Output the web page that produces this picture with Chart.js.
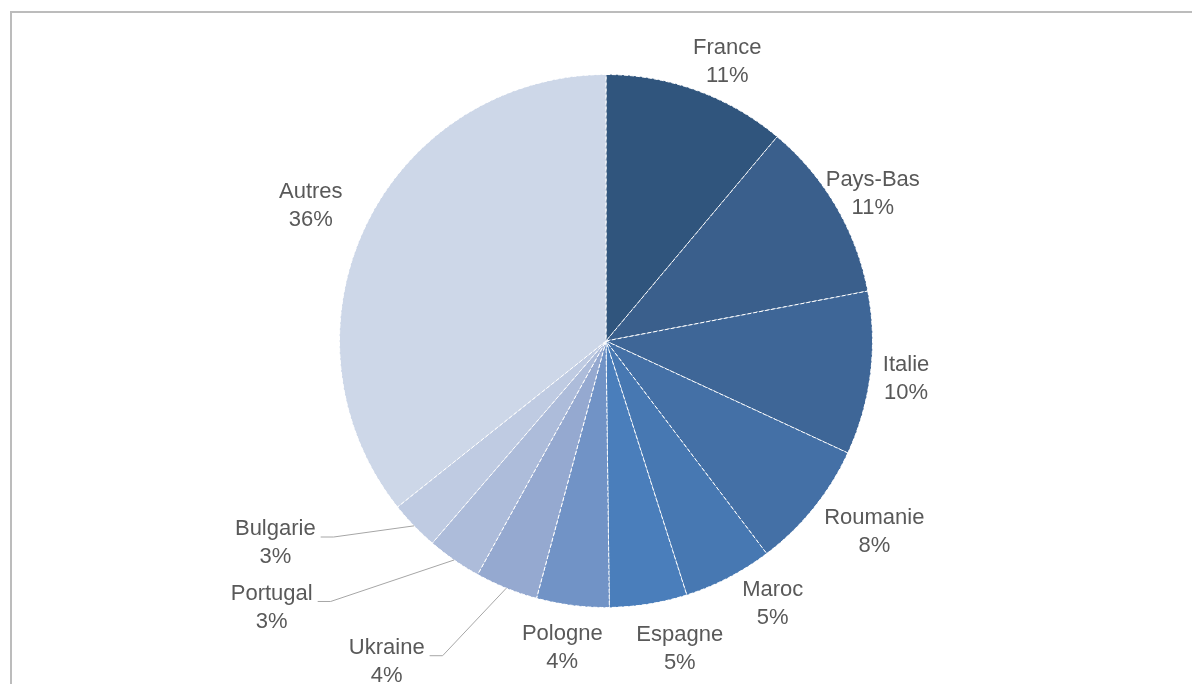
<!DOCTYPE html>
<html>
<head>
<meta charset="utf-8">
<script src="https://cdn.jsdelivr.net/npm/chart.js@4/dist/chart.umd.min.js"></script>
<style>
  html, body { margin: 0; padding: 0; background: #ffffff; overflow: hidden; }
  #wrap { position: relative; width: 1192px; height: 684px; }
  #frame { position: absolute; left: 10px; top: 11px; width: 1200px; height: 700px;
           border-left: 2px solid #bcbcbc; border-top: 2px solid #bcbcbc; box-sizing: border-box; }
  canvas { position: absolute; left: 0; top: 0; }
</style>
</head>
<body>
<div id="wrap">
  <div id="frame"></div>
  <canvas id="c" width="1192" height="684"></canvas>
</div>
<script>
// ---- data ----
const categories = ["France", "Pays-Bas", "Italie", "Roumanie", "Maroc", "Espagne", "Pologne", "Ukraine", "Portugal", "Bulgarie", "Autres"];
const shares = [11.1, 10.9, 9.9, 7.8, 5.4, 4.7, 4.4, 3.8, 3.3, 3.0, 35.7];
const sliceColors = ["#30557d", "#3a5f8c", "#3e6697", "#4470a6", "#4778b2", "#4a7ebb", "#7193c6", "#95a9d0", "#adbcda", "#bfcbe2", "#cdd7e8"];

// label placement: angle tweak (deg) and distance beyond the rim (px), plus leader-line flag
const labelPlacement = [
  {da: 3.5,  dr: 38,  leader: false},
  {da: 1.6,  dr: 38,  leader: false},
  {da: 0.2,  dr: 36,  leader: false},
  {da: -3.4, dr: 63,  leader: false},
  {da: -5.0, dr: 45,  leader: false},
  {da: -4.3, dr: 50,  leader: false},
  {da: 0.9,  dr: 44,  leader: false},
  {da: 12.4, dr: 122, leader: true},
  {da: 16.7, dr: 161, leader: true},
  {da: 12.5, dr: 121, leader: true},
  {da: -1.2, dr: 58,  leader: false}
];

const outsideLabels = {
  id: 'outsideLabels',
  afterDatasetsDraw(chart) {
    const ctx = chart.ctx;
    const meta = chart.getDatasetMeta(0);
    const data = chart.data.datasets[0].data;
    ctx.save();
    ctx.font = '22px "Liberation Sans", Arial, sans-serif';
    ctx.fillStyle = '#595959';
    ctx.textAlign = 'center';
    ctx.textBaseline = 'middle';
    const lineGap = 28;
    meta.data.forEach((arc, i) => {
      const p = arc.getProps(['x', 'y', 'startAngle', 'endAngle', 'outerRadius'], true);
      const mid = (p.startAngle + p.endAngle) / 2;
      const pl = labelPlacement[i];
      const a = mid + pl.da * Math.PI / 180;
      const r = p.outerRadius + pl.dr;
      const lx = p.x + Math.cos(a) * r;
      const ly = p.y + Math.sin(a) * r;
      const name = chart.data.labels[i];
      const pct = Math.round(data[i]) + '%';
      ctx.fillText(name, lx, ly - lineGap / 2);
      ctx.fillText(pct, lx, ly + lineGap / 2);
      if (pl.leader) {
        const w = ctx.measureText(name).width;
        const right = lx + w / 2;
        const yLine = ly - lineGap / 2 + 8;
        const ex = p.x + Math.cos(mid) * p.outerRadius;
        const ey = p.y + Math.sin(mid) * p.outerRadius;
        ctx.beginPath();
        ctx.strokeStyle = '#a6a6a6';
        ctx.lineWidth = 1;
        ctx.moveTo(ex, ey);
        ctx.lineTo(right + 18, yLine);
        ctx.lineTo(right + 5, yLine);
        ctx.stroke();
      }
    });
    ctx.restore();
  }
};

new Chart(document.getElementById('c'), {
  type: 'pie',
  data: {
    labels: categories,
    datasets: [{
      data: shares,
      backgroundColor: sliceColors,
      borderColor: '#ffffff',
      borderWidth: 1,
      borderDash: [4, 2]
    }]
  },
  options: {
    responsive: false,
    animation: false,
    layout: { padding: { left: 339, right: 319, top: 74, bottom: 76 } },
    plugins: {
      legend: { display: false },
      tooltip: { enabled: false }
    }
  },
  plugins: [outsideLabels]
});
</script>
</body>
</html>
